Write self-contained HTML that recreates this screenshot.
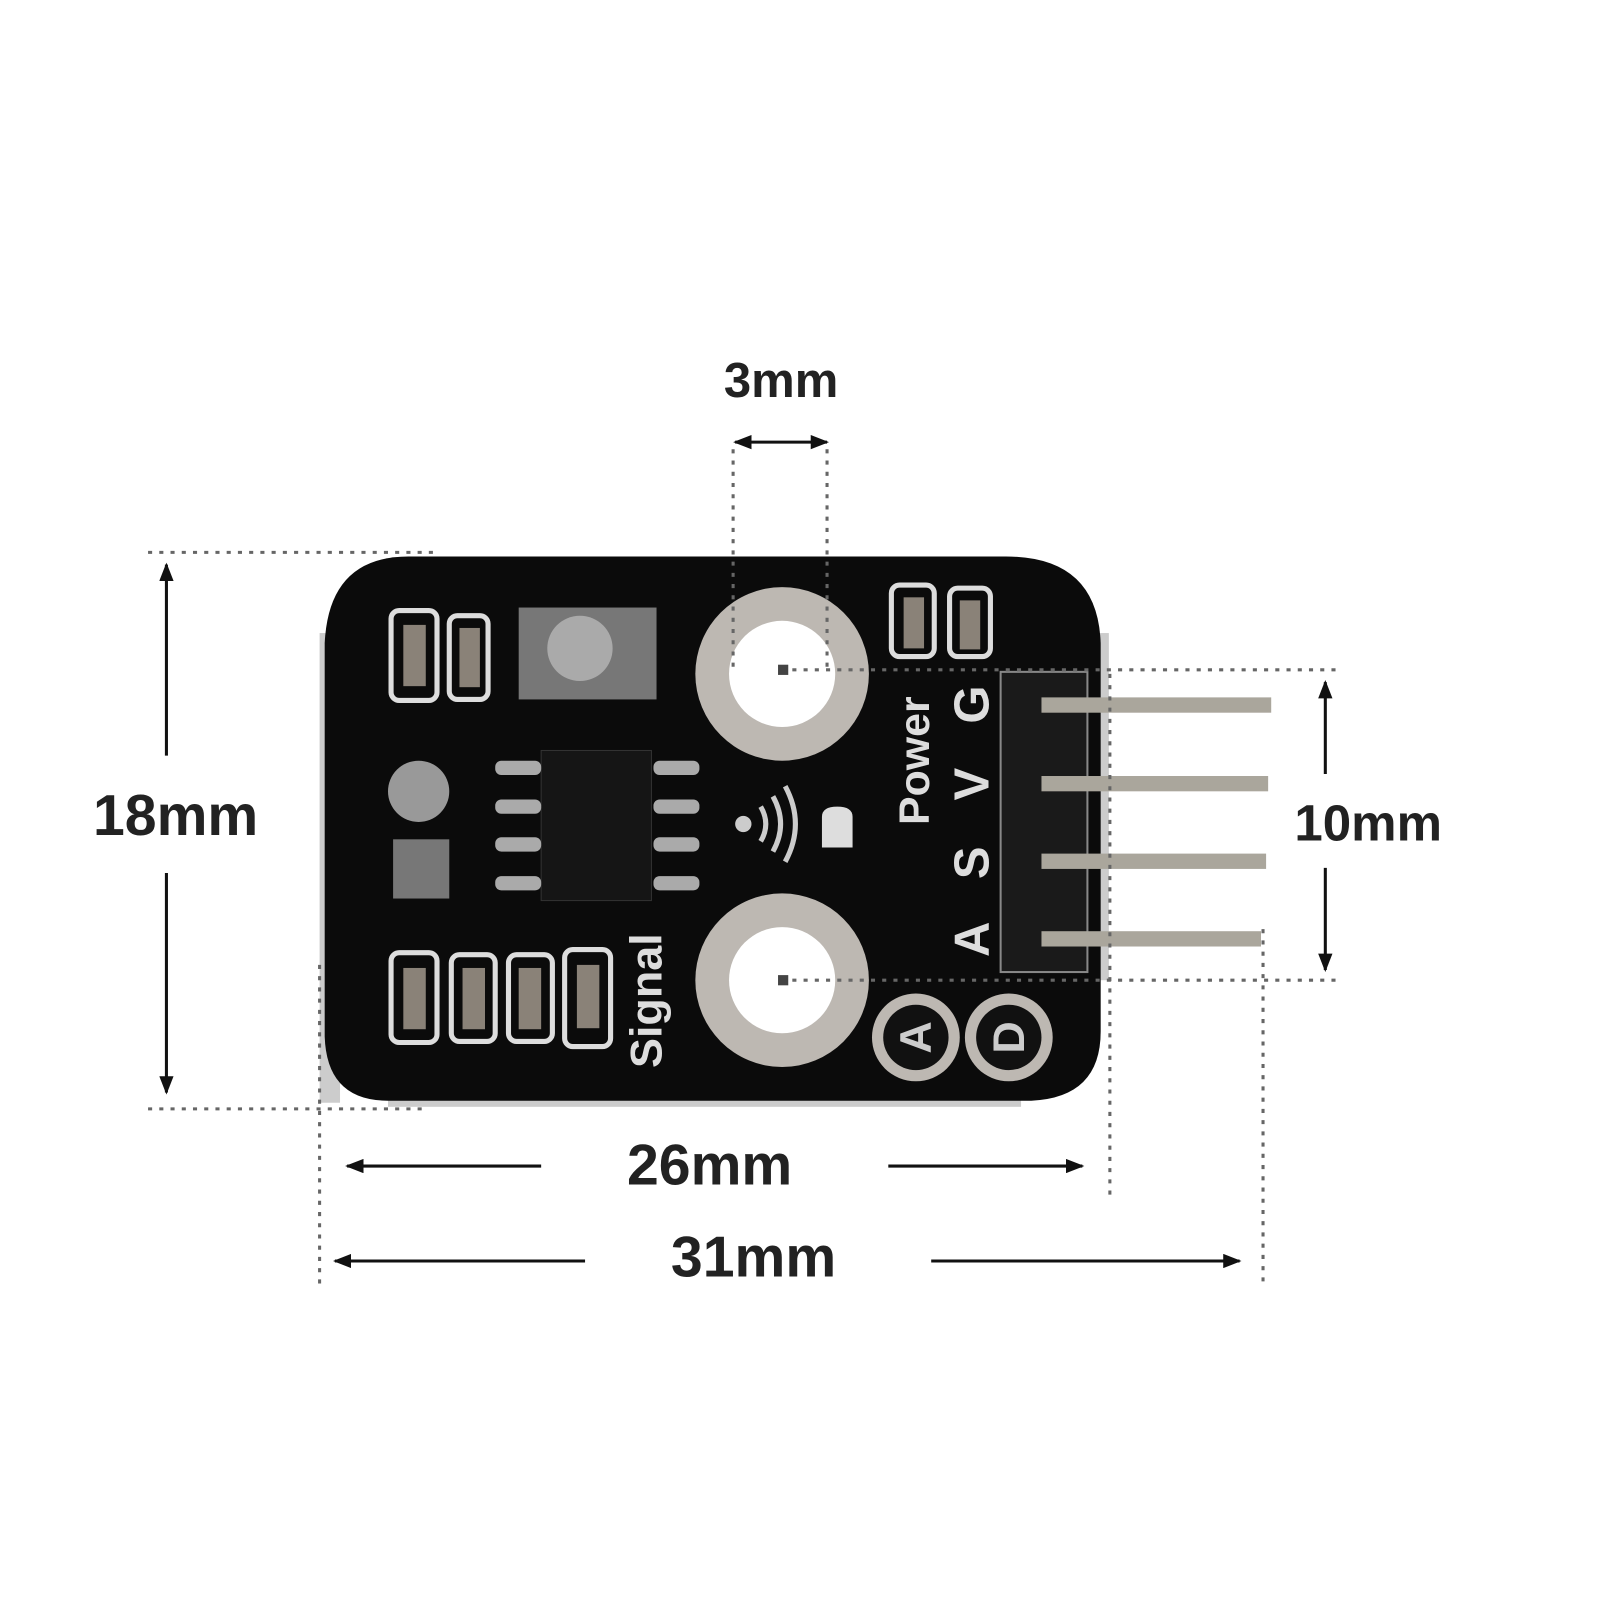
<!DOCTYPE html>
<html><head><meta charset="utf-8"><style>
html,body{margin:0;padding:0;background:#fff;}
svg{display:block;}
text{font-family:"Liberation Sans",sans-serif;font-weight:bold;}
</style></head><body>
<svg width="1601" height="1600" viewBox="0 0 1568 1567" xmlns="http://www.w3.org/2000/svg">
<defs>
<marker id="ah2" markerWidth="18" markerHeight="14" refX="16" refY="7" orient="auto" markerUnits="userSpaceOnUse"><path d="M0,0 L18,7 L0,14 z" fill="#111"/></marker>
<marker id="ah2s" markerWidth="18" markerHeight="14" refX="2" refY="7" orient="auto" markerUnits="userSpaceOnUse"><path d="M18,0 L0,7 L18,14 z" fill="#111"/></marker>
</defs>
<rect x="313" y="620" width="20" height="460" fill="#ccc"/>
<rect x="1066" y="620" width="20" height="340" fill="#ccc"/>
<rect x="380" y="1070" width="620" height="14" fill="#ccc"/>
<path d="M400,545 L985,545 Q1075,545 1078,630 L1078,1010 Q1078,1075 1010,1078 L380,1078 Q320,1078 318,1015 L318,630 Q322,545 400,545 z" fill="#0b0b0b"/>
<rect x="980" y="658" width="85" height="294" fill="#1a1a1a" stroke="#888" stroke-width="2"/>
<g fill="#aaa69c">
<rect x="1020" y="683" width="225" height="15"/>
<rect x="1020" y="760" width="222" height="15"/>
<rect x="1020" y="836" width="220" height="15"/>
<rect x="1020" y="912" width="215" height="15"/>
</g>
<circle cx="766" cy="660" r="85" fill="#bdb8b2"/><circle cx="766" cy="660" r="52" fill="#fff"/>
<circle cx="766" cy="960" r="85" fill="#bdb8b2"/><circle cx="766" cy="960" r="52" fill="#fff"/>
<circle cx="897" cy="1016" r="43" fill="#bdb8b2"/><circle cx="897" cy="1016" r="32" fill="#111"/>
<circle cx="988" cy="1016" r="43" fill="#bdb8b2"/><circle cx="988" cy="1016" r="32" fill="#111"/>
<text transform="translate(912,1016) rotate(-90)" text-anchor="middle" font-size="44" fill="#ccc" font-weight="normal">A</text>
<text transform="translate(1003,1016) rotate(-90)" text-anchor="middle" font-size="44" fill="#ccc" font-weight="normal">D</text>
<rect x="530" y="735" width="108" height="147" fill="#151515" stroke="#333"/>
<g fill="#aaa">
<rect x="485" y="745" width="45" height="14" rx="6"/><rect x="485" y="783" width="45" height="14" rx="6"/><rect x="485" y="820" width="45" height="14" rx="6"/><rect x="485" y="858" width="45" height="14" rx="6"/>
<rect x="640" y="745" width="45" height="14" rx="6"/><rect x="640" y="783" width="45" height="14" rx="6"/><rect x="640" y="820" width="45" height="14" rx="6"/><rect x="640" y="858" width="45" height="14" rx="6"/>
</g>
<g fill="none" stroke="#ddd" stroke-width="5">
<rect x="383" y="598" width="45" height="88" rx="8"/><rect x="440" y="603" width="38" height="82" rx="8"/>
<rect x="383" y="933" width="45" height="88" rx="8"/><rect x="442" y="935" width="43" height="85" rx="8"/><rect x="498" y="935" width="43" height="85" rx="8"/><rect x="553" y="930" width="45" height="95" rx="8"/>
<rect x="873" y="573" width="42" height="70" rx="8"/><rect x="930" y="576" width="40" height="67" rx="8"/>
</g>
<g fill="#8a8278"><rect x="395" y="612" width="22" height="60"/><rect x="450" y="615" width="20" height="58"/>
<rect x="395" y="948" width="22" height="60"/><rect x="453" y="948" width="22" height="60"/><rect x="508" y="948" width="22" height="60"/><rect x="565" y="945" width="22" height="62"/>
<rect x="885" y="585" width="20" height="50"/><rect x="940" y="588" width="20" height="48"/></g>
<rect x="508" y="595" width="135" height="90" fill="#777"/><circle cx="568" cy="635" r="32" fill="#aaa"/>
<circle cx="410" cy="775" r="30" fill="#999"/>
<rect x="385" y="822" width="55" height="58" fill="#777"/>
<circle cx="728" cy="807" r="8" fill="#ccc"/>
<path d="M745,790 Q755,807 745,824 M757,780 Q772,807 757,834 M769,770 Q789,807 769,844" stroke="#ccc" stroke-width="5" fill="none"/>
<path d="M805,800 Q805,790 820,790 Q835,790 835,800 L835,830 L805,830 z" fill="#ddd"/>
<g fill="#ddd" font-size="48">
<text transform="translate(968,690) rotate(-90)" text-anchor="middle">G</text>
<text transform="translate(968,768) rotate(-90)" text-anchor="middle">V</text>
<text transform="translate(968,845) rotate(-90)" text-anchor="middle">S</text>
<text transform="translate(968,920) rotate(-90)" text-anchor="middle">A</text>
<text transform="translate(910,745) rotate(-90)" text-anchor="middle" font-size="42">Power</text>
<text transform="translate(648,980) rotate(-90)" text-anchor="middle" font-size="44">Signal</text>
</g>
<g stroke="#666" stroke-width="3" stroke-dasharray="4,7" fill="none">
<line x1="718" y1="440" x2="718" y2="660"/><line x1="810" y1="440" x2="810" y2="660"/>
<line x1="145" y1="541" x2="428" y2="541"/><line x1="145" y1="1086" x2="420" y2="1086"/>
<line x1="765" y1="656" x2="1310" y2="656"/><line x1="765" y1="960" x2="1310" y2="960"/>
<line x1="1087" y1="660" x2="1087" y2="1175"/>
<line x1="313" y1="945" x2="313" y2="1260"/><line x1="1237" y1="910" x2="1237" y2="1260"/>
</g>
<rect x="762" y="651" width="10" height="10" fill="#444"/><rect x="762" y="955" width="10" height="10" fill="#444"/>
<g stroke="#111" stroke-width="3">
<line x1="720" y1="433" x2="810" y2="433" marker-start="url(#ah2s)" marker-end="url(#ah2)"/>
<line x1="163" y1="740" x2="163" y2="553" marker-end="url(#ah2)"/><line x1="163" y1="855" x2="163" y2="1070" marker-end="url(#ah2)"/>
<line x1="1298" y1="758" x2="1298" y2="668" marker-end="url(#ah2)"/><line x1="1298" y1="850" x2="1298" y2="950" marker-end="url(#ah2)"/>
<line x1="530" y1="1142" x2="340" y2="1142" marker-end="url(#ah2)"/><line x1="870" y1="1142" x2="1060" y2="1142" marker-end="url(#ah2)"/>
<line x1="573" y1="1235" x2="328" y2="1235" marker-end="url(#ah2)"/><line x1="912" y1="1235" x2="1214" y2="1235" marker-end="url(#ah2)"/>
</g>
<g fill="#222" text-anchor="middle">
<text x="765" y="389" font-size="48">3mm</text>
<text x="172" y="818" font-size="56">18mm</text>
<text x="1340" y="823" font-size="50">10mm</text>
<text x="695" y="1160" font-size="56">26mm</text>
<text x="738" y="1250" font-size="56">31mm</text>
</g>
</svg>
</body></html>
